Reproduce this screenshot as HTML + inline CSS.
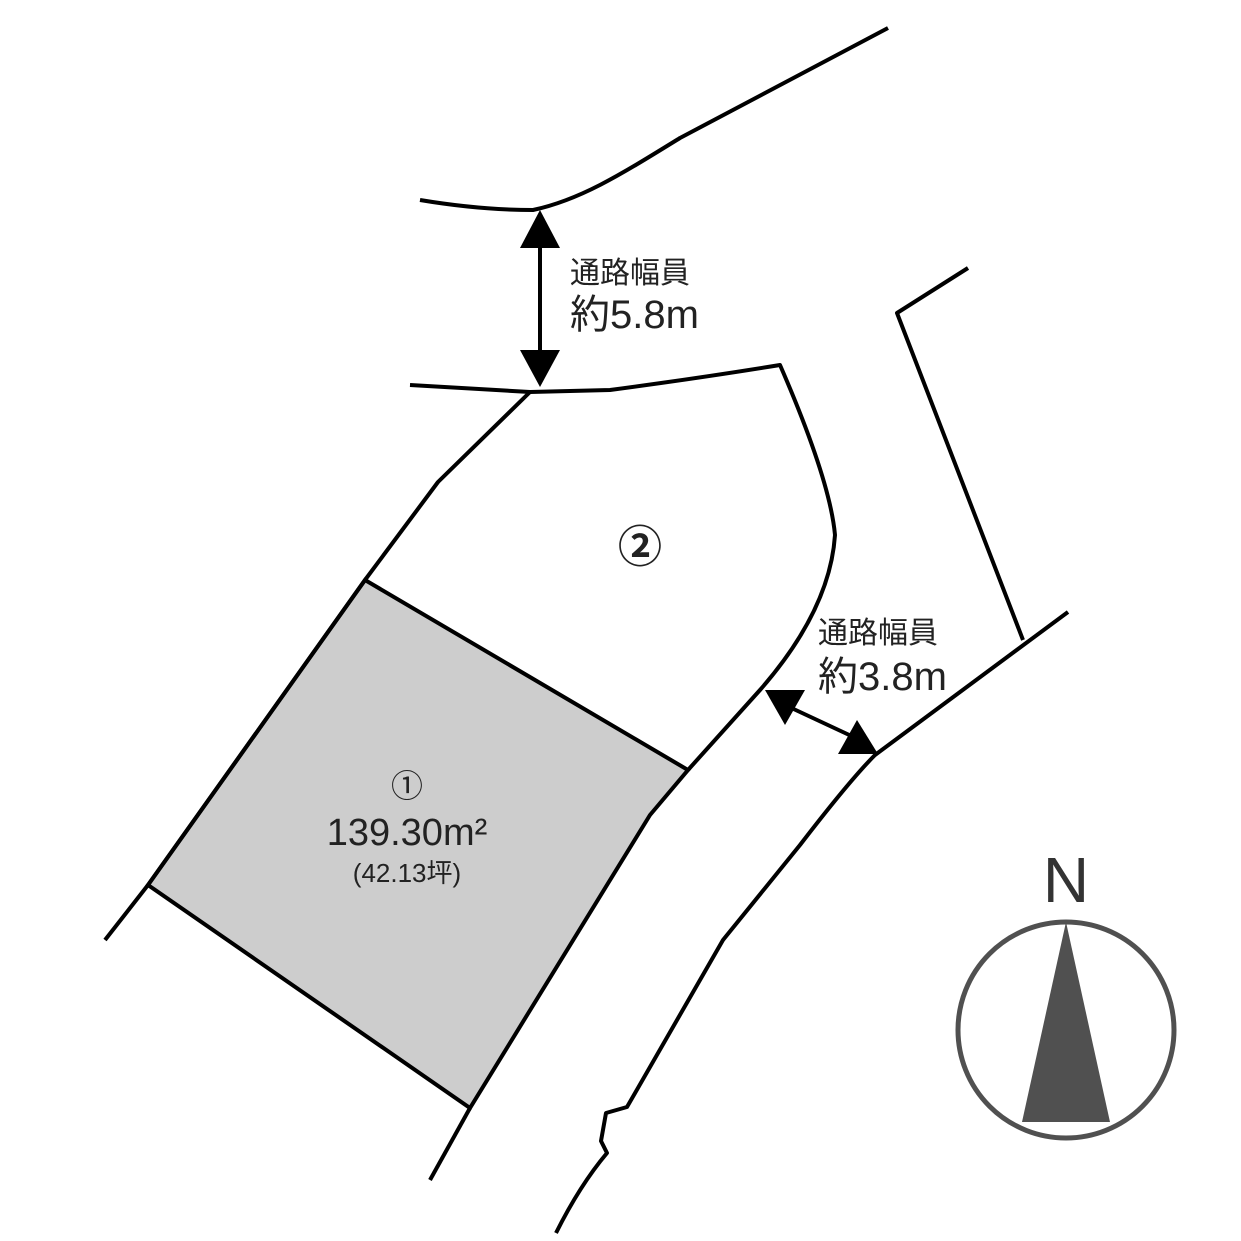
<!DOCTYPE html>
<html><head><meta charset="utf-8"><style>body{margin:0;background:#fff}svg{display:block}</style></head><body>
<svg width="1241" height="1241" viewBox="0 0 1241 1241" xmlns="http://www.w3.org/2000/svg">
<polygon points="365,580 688,770 650,815 470,1108 148,885" fill="#cdcdcd" stroke="#000" stroke-width="4"/>
<g fill="none" stroke="#000" stroke-width="4" stroke-linejoin="round">
<path d="M420,200 Q480,210 533,210 C580,200 620,175 680,138 L888,28"/>
<path d="M410,385 L530,392 L610,390 Q700,378 780,365 Q830,480 835,535 Q830,610 760,690 L688,770"/>
<path d="M530,392 L438,482 L365,580 L148,885 L105,940"/>
<path d="M470,1108 L430,1180"/>
<path d="M968,268 L897,313 L1023,640"/>
<path d="M1068,612 L875,755 Q850,780 800,845 L723,940 L627,1107 L606,1113 L601,1141 L607,1153 Q580,1185 556,1233"/>
<path d="M540,240 L540,360"/>
<path d="M785,705 L860,740"/>
</g>
<polygon points="540,210 520,248 560,248"/>
<polygon points="540,387 520,350 560,350"/>
<polygon points="765,690 805,690 785,725"/>
<polygon points="857,720 838,754 878,754"/>
<g font-family="'Liberation Sans','Noto Sans CJK JP',sans-serif" fill="#222">
<text x="570" y="283" font-size="30">通路幅員</text>
<text x="570" y="328" font-size="40">約5.8m</text>
<text x="818" y="643" font-size="30">通路幅員</text>
<text x="818" y="690" font-size="40">約3.8m</text>
<text x="640" y="562" font-size="44" text-anchor="middle" font-weight="bold">②</text>
<text x="407" y="797" font-size="32" text-anchor="middle">①</text>
<text x="407" y="845" font-size="38" text-anchor="middle">139.30m²</text>
<text x="407" y="882" font-size="26" text-anchor="middle">(42.13坪)</text>
<text x="1066" y="902" font-size="64" text-anchor="middle" fill="#333">N</text>
</g>
<circle cx="1066" cy="1030" r="108" fill="none" stroke="#505050" stroke-width="5"/>
<polygon points="1066,922 1022,1122 1110,1122" fill="#505050"/>
</svg>
</body></html>
